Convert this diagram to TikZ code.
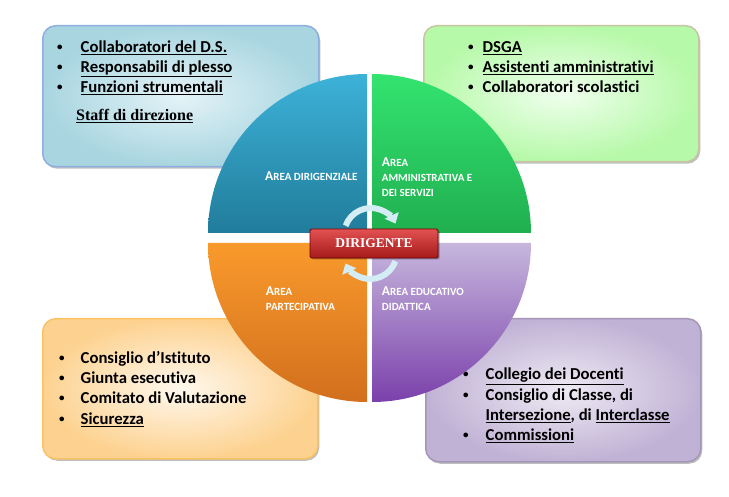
\documentclass[tikz,border=0pt]{standalone}
\usepackage{fontspec}
\setmainfont{Carlito}[Ligatures=NoCommon]
\newfontfamily\timesfont{Liberation Serif}
\usetikzlibrary{shadows,arrows.meta}

\definecolor{blueT}{HTML}{3DB2D8}
\definecolor{blueB}{HTML}{217C9B}
\definecolor{greenT}{HTML}{33E470}
\definecolor{greenB}{HTML}{20AF50}
\definecolor{orT}{HTML}{F99A2C}
\definecolor{orB}{HTML}{D26F1D}
\definecolor{purT}{HTML}{C6B7DD}
\definecolor{purB}{HTML}{7B40AB}
\definecolor{staffline}{HTML}{8EAEE0}
\definecolor{staffin}{HTML}{E4F3F7}
\definecolor{staffout}{HTML}{A8D5E0}
\definecolor{amminline}{HTML}{C8C6A2}
\definecolor{amminin}{HTML}{F0FFEE}
\definecolor{amminout}{HTML}{B6F9A8}
\definecolor{partecline}{HTML}{F9C262}
\definecolor{partecin}{HTML}{FFF8EE}
\definecolor{partecout}{HTML}{FDD290}
\definecolor{educline}{HTML}{A596B8}
\definecolor{educin}{HTML}{EEEAF3}
\definecolor{educout}{HTML}{C0B2D5}
\definecolor{redT}{HTML}{E25252}
\definecolor{redB}{HTML}{A51A1A}
\definecolor{arrowfill}{HTML}{D4ECF3}

\newcommand{\blt}[1][23pt]{\makebox[#1][l]{\raisebox{.12em}{\fontsize{11}{11}\selectfont\textbullet}}}
\newcommand{\ini}[1]{{\fontsize{13.5}{14.7}\selectfont #1}}

\begin{document}
\begin{tikzpicture}
  [x=1pt,y=-1pt,every node/.style={inner sep=0pt},
   listbox/.style n args={3}{draw=#1,inner color=#2,outer color=#3,line width=1.5pt,
     rounded corners=13pt,anchor=north west,
     drop shadow={shadow xshift=1.5pt,shadow yshift=-2pt,fill=black,opacity=.25}},
   items/.style={font=\fontsize{16.7}{20.3}\selectfont\bfseries,anchor=base west},
   arealabel/.style={font=\fontsize{11}{14.7}\selectfont\bfseries,text=white,anchor=base west},
   cyclearrow/.style={line width=6pt,draw=arrowfill,-{Triangle[length=9pt,width=15pt]}}]
  \useasboundingbox (0,0) rectangle (729,497);

  \node[listbox={staffline}{staffin}{staffout},minimum width=276pt,minimum height=141pt] (staffbox) at (42,25) {};
  \node[listbox={amminline}{amminin}{amminout},minimum width=275pt,minimum height=136pt] (amminbox) at (423,25) {};
  \node[listbox={partecline}{partecin}{partecout},minimum width=275pt,minimum height=140pt] (partecbox) at (42,318) {};
  \node[listbox={educline}{educin}{educout},minimum width=275pt,minimum height=143pt] (educbox) at (425,318) {};

  \node[items] (staffitems) at (57,52.3) {\begin{tabular}[t]{@{}l@{}}
    \blt[23.5pt]\underline{Collaboratori del D.S.}\\
    \blt[23.5pt]\underline{Responsabili di plesso}\\
    \blt[23.5pt]\underline{Funzioni strumentali}
  \end{tabular}};
  \node[font=\timesfont\bfseries\fontsize{16}{16}\selectfont,anchor=base west] (staff) at (76,121) {\underline{Staff di direzione}};

  \node[items] (amminitems) at (468,52.3) {\begin{tabular}[t]{@{}l@{}}
    \blt[14.5pt]\underline{DSGA}\\
    \blt[14.5pt]\underline{Assistenti amministrativi}\\
    \blt[14.5pt]Collaboratori scolastici
  \end{tabular}};

  \node[items] (partecitems) at (59,363.3) {\begin{tabular}[t]{@{}l@{}}
    \blt[21.5pt]Consiglio d’Istituto\\
    \blt[21.5pt]Giunta esecutiva\\
    \blt[21.5pt]Comitato di Valutazione\\
    \blt[21.5pt]\underline{Sicurezza}
  \end{tabular}};

  \node[items] (educitems) at (463,380) {\begin{tabular}[t]{@{}l@{}}
    \blt[22.5pt]\underline{Collegio dei Docenti}\\
    \blt[22.5pt]Consiglio di Classe, di\\
    \hspace*{22.5pt}\underline{Intersezione}, di \underline{Interclasse}\\
    \blt[22.5pt]\underline{Commissioni}
  \end{tabular}};

  \foreach \cx/\cy/\a/\colA/\colB in {367/233/180/blueT/blueB,372/233/270/greenT/greenB,
      372/243/0/purT/purB,367/243/90/orT/orB}
    \shade[top color=\colA,bottom color=\colB] (\cx,\cy) -- ++(\a:159)
      arc[start angle=\a,end angle=\a+90,radius=159] -- cycle;

  \node[arealabel] (dirig) at (265,181) {\begin{tabular}[t]{@{}l@{}}\ini{A}REA DIRIGENZIALE\end{tabular}};
  \node[arealabel] (ammin) at (381.7,166.7) {\begin{tabular}[t]{@{}l@{}}\ini{A}REA\\AMMINISTRATIVA E\\DEI SERVIZI\end{tabular}};
  \node[arealabel] (partec) at (265.7,295.7) {\begin{tabular}[t]{@{}l@{}}\ini{A}REA\\PARTECIPATIVA\end{tabular}};
  \node[arealabel] (educ) at (381.7,295.7) {\begin{tabular}[t]{@{}l@{}}\ini{A}REA EDUCATIVO\\DIDATTICA\end{tabular}};

  \coordinate (hubtop) at (371,235);
  \coordinate (hubbot) at (370,252);
  \draw[cyclearrow] ([shift={(200:27)}]hubtop) arc[start angle=200,end angle=335,radius=27];
  \draw[cyclearrow] ([shift={(20:27)}]hubbot) arc[start angle=20,end angle=155,radius=27];

  \node[draw=red!45!black,line width=.8pt,top color=redT,bottom color=redB,
    minimum width=128pt,minimum height=29pt,rounded corners=1.5pt,
    drop shadow={shadow xshift=1.5pt,shadow yshift=-1.5pt,fill=black,opacity=.3},
    font=\timesfont\bfseries\fontsize{13.5}{13.5}\selectfont,text=white] (dirigente) at (374,243.5) {DIRIGENTE};
\end{tikzpicture}
\end{document}
